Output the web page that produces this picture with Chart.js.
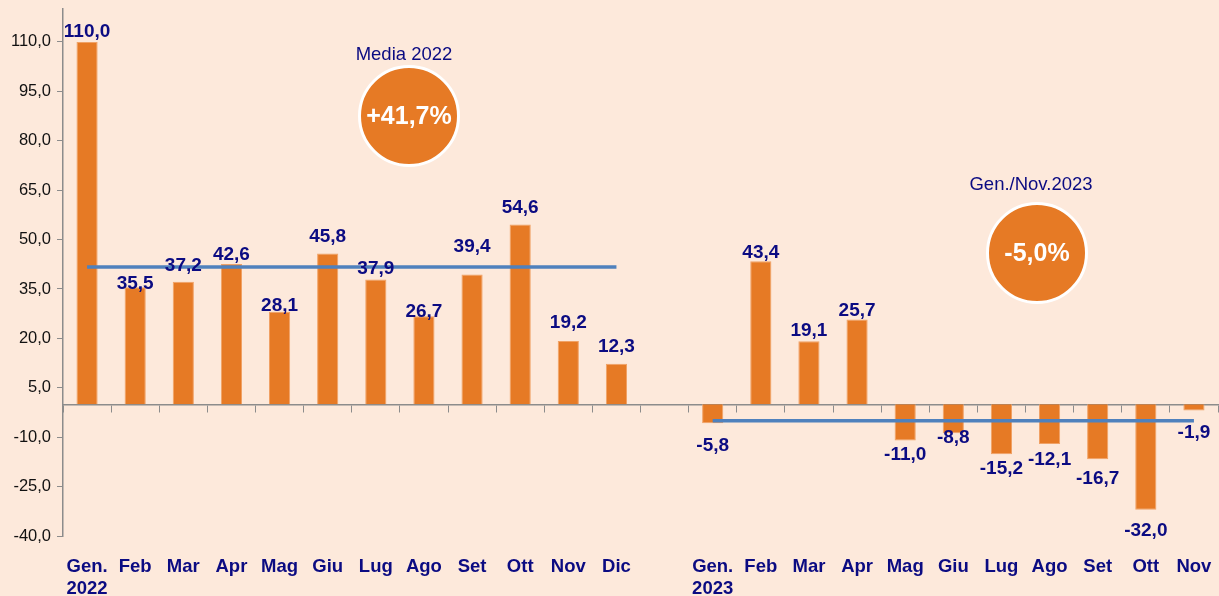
<!DOCTYPE html>
<html>
<head>
<meta charset="utf-8">
<script src="https://cdn.jsdelivr.net/npm/chart.js@4"></script>
<style>
  html, body { margin: 0; padding: 0; background: #fde9db; }
  #wrap { width: 1219px; height: 596px; }
</style>
</head>
<body>
<div id="wrap"><canvas id="chart"></canvas></div>
<script>
// months, 2022 then a blank slot then 2023
const months2022 = [['Gen.', '2022'], 'Feb', 'Mar', 'Apr', 'Mag', 'Giu', 'Lug', 'Ago', 'Set', 'Ott', 'Nov', 'Dic'];
const months2023 = [['Gen.', '2023'], 'Feb', 'Mar', 'Apr', 'Mag', 'Giu', 'Lug', 'Ago', 'Set', 'Ott', 'Nov'];
const values2022 = [110.0, 35.5, 37.2, 42.6, 28.1, 45.8, 37.9, 26.7, 39.4, 54.6, 19.2, 12.3];
const values2023 = [-5.8, 43.4, 19.1, 25.7, -11.0, -8.8, -15.2, -12.1, -16.7, -32.0, -1.9];
const mean2022 = 41.7;
const mean2023 = -5.0;
const yTicks = [-40, -25, -10, 5, 20, 35, 50, 65, 80, 95, 110];

const categories = [...months2022, '', ...months2023];
const values = [...values2022, null, ...values2023];
const meanLine2022 = [...values2022.map(() => mean2022), null, ...values2023.map(() => null)];
const meanLine2023 = [...values2022.map(() => null), null, ...values2023.map(() => mean2023)];

// distance of each value label from the bar end (px), as placed in the original
const labelGap = [10, 4, 16, 9, 6, 17, 11, 5, 28, 17, 18, 17, 0, 22, 9, 11, 9, 14, 5, 14, 16, 20, 21, 22];

const NAVY = '#0b0b82';
const ORANGE = '#e67a25';
const FONT = '"Liberation Sans", Arial, sans-serif';

const fmt = v => v.toFixed(1).replace('.', ',');

const valueLabels = {
  id: 'valueLabels',
  afterDatasetsDraw(chart) {
    const ctx = chart.ctx;
    const meta = chart.getDatasetMeta(0);
    ctx.save();
    ctx.font = 'bold 19px ' + FONT;
    ctx.fillStyle = NAVY;
    ctx.textAlign = 'center';
    ctx.textBaseline = 'middle';
    meta.data.forEach((bar, i) => {
      const v = values[i];
      if (v === null) return;
      const y = v >= 0 ? bar.y - labelGap[i] : bar.y + labelGap[i];
      ctx.fillText(fmt(v), bar.x, y);
    });
    ctx.restore();
  }
};

const badges = {
  id: 'badges',
  afterDraw(chart) {
    const ctx = chart.ctx;
    const items = [
      { title: 'Media 2022', tx: 404, ty: 55, cx: 409, cy: 116, text: '+41,7%' },
      { title: 'Gen./Nov.2023', tx: 1031, ty: 185, cx: 1037, cy: 253, text: '-5,0%' }
    ];
    ctx.save();
    items.forEach(it => {
      ctx.font = '18.5px ' + FONT;
      ctx.fillStyle = NAVY;
      ctx.textAlign = 'center';
      ctx.textBaseline = 'middle';
      ctx.fillText(it.title, it.tx, it.ty);
      ctx.beginPath();
      ctx.arc(it.cx, it.cy, 49.5, 0, Math.PI * 2);
      ctx.fillStyle = ORANGE;
      ctx.fill();
      ctx.lineWidth = 3;
      ctx.strokeStyle = '#ffffff';
      ctx.stroke();
      ctx.font = 'bold 25px ' + FONT;
      ctx.fillStyle = '#ffffff';
      ctx.fillText(it.text, it.cx, it.cy + 1);
    });
    ctx.restore();
  }
};

new Chart(document.getElementById('chart'), {
  type: 'bar',
  data: {
    labels: categories,
    datasets: [
      {
        type: 'bar',
        data: values,
        backgroundColor: ORANGE,
        borderColor: '#f0a266',
        borderWidth: 1,
        barPercentage: 1,
        categoryPercentage: 0.44,
        order: 2
      },
      {
        type: 'line',
        data: meanLine2022,
        borderColor: '#4f81bd',
        borderWidth: 3.5,
        pointRadius: 0,
        order: 1
      },
      {
        type: 'line',
        data: meanLine2023,
        borderColor: '#4f81bd',
        borderWidth: 3.5,
        pointRadius: 0,
        order: 1
      }
    ]
  },
  options: {
    responsive: true,
    maintainAspectRatio: false,
    animation: false,
    devicePixelRatio: 1,
    layout: { padding: { top: 9, right: 1, left: 0, bottom: 0 } },
    plugins: {
      legend: { display: false },
      tooltip: { enabled: false }
    },
    scales: {
      x: {
        grid: { display: false },
        border: { display: false },
        ticks: {
          color: NAVY,
          font: { family: FONT, size: 18.5, weight: 'bold' },
          maxRotation: 0,
          autoSkip: false,
          padding: 12
        },
        afterFit: s => { s.height = 60; s.paddingLeft = 0; s.paddingRight = 0; }
      },
      x2: {
        type: 'category',
        position: { y: 0 },
        offset: true,
        grid: { display: true, offset: true, drawOnChartArea: false, drawTicks: true, tickLength: 7, color: '#8c8c8c' },
        border: { display: true, color: '#8c8c8c', width: 1.5 },
        ticks: { display: false },
        afterFit: s => { s.paddingLeft = 0; s.paddingRight = 0; }
      },
      y: {
        min: -40,
        max: 120,
        afterBuildTicks: s => { s.ticks = yTicks.map(v => ({ value: v })); },
        grid: { display: true, drawOnChartArea: false, drawTicks: true, tickLength: 6, color: '#8c8c8c' },
        border: { display: true, color: '#8c8c8c', width: 1.5 },
        ticks: {
          color: '#111111',
          font: { family: FONT, size: 16.5 },
          padding: 6,
          callback: v => fmt(v)
        },
        afterFit: s => { s.width = 63; s.paddingTop = 0; s.paddingBottom = 0; }
      }
    }
  },
  plugins: [valueLabels, badges]
});
</script>
</body>
</html>
